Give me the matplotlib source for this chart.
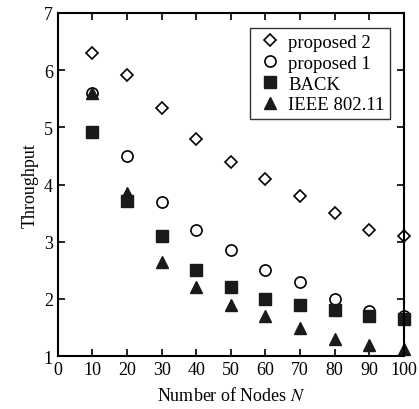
import matplotlib.pyplot as plt

plt.rcParams['font.family'] = ['Liberation Serif', 'DejaVu Serif']
plt.rcParams['mathtext.fontset'] = 'stix'

nodes = [10, 20, 30, 40, 50, 60, 70, 80, 90, 100]
proposed2 = [6.3, 5.92, 5.33, 4.8, 4.4, 4.1, 3.8, 3.5, 3.2, 3.1]
proposed1 = [5.6, 4.5, 3.7, 3.2, 2.85, 2.5, 2.3, 2.0, 1.78, 1.7]
back = [4.92, 3.72, 3.1, 2.5, 2.2, 2.0, 1.9, 1.8, 1.7, 1.65]
ieee = [5.6, 3.85, 2.65, 2.2, 1.9, 1.7, 1.5, 1.3, 1.2, 1.12]

fig = plt.figure(figsize=(4.19, 4.10), dpi=100)
ax = fig.add_axes([0.138, 0.129, 0.826, 0.837])

ax.plot(nodes, proposed2, 'D', ms=6, mfc='white', mec='black', mew=1.2,
        label='proposed 2', clip_on=False)
ax.plot(nodes, proposed1, 'o', ms=8, mfc='white', mec='black', mew=1.2,
        label='proposed 1', clip_on=False)
ax.plot(nodes, back, 's', ms=8, color='#1a1a1a', label='BACK', clip_on=False)
ax.plot(nodes, ieee, '^', ms=8, color='#1a1a1a', label='IEEE 802.11', clip_on=False)

ax.set_xlim(0, 100)
ax.set_ylim(1, 7)
ax.set_xticks(range(0, 101, 10))
ax.set_yticks(range(1, 8))
ax.tick_params(direction='in', top=True, right=True, labelsize=13, length=5, width=1.2)
for s in ax.spines.values():
    s.set_linewidth(1.5)

ax.set_xlabel('Number of Nodes $N$', fontsize=13, labelpad=6)
ax.set_ylabel('Throughput', fontsize=13)

leg = ax.legend(loc='upper right', fontsize=13.5, frameon=True, fancybox=False,
                edgecolor='black', handletextpad=0.15, handlelength=1.6,
                labelspacing=0.2, borderpad=0.3, borderaxespad=0,
                bbox_to_anchor=(0.96, 0.956))
leg.get_frame().set_linewidth(1.0)

fig.savefig('out.png', dpi=100)
